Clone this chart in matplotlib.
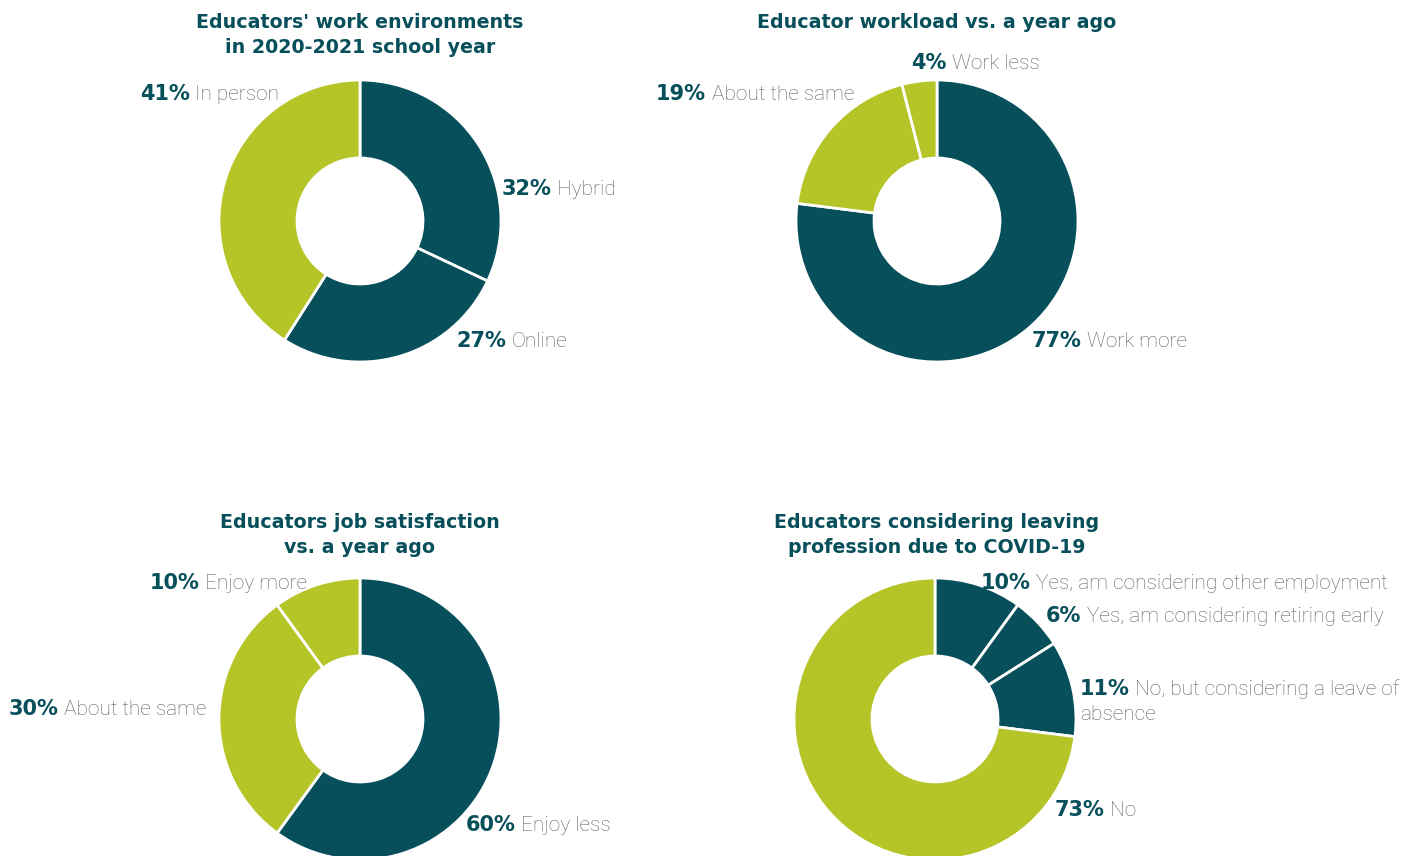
import matplotlib
matplotlib.use('Agg')
import matplotlib.pyplot as plt

TEAL = '#074f5a'
LIME = '#b5c427'
GRAY = '#5f5f65'

# chart data, wedges go clockwise from 12 o'clock
titles = [
    "Educators' work environments\nin 2020-2021 school year",
    "Educator workload vs. a year ago",
    "Educators job satisfaction\nvs. a year ago",
    "Educators considering leaving\nprofession due to COVID-19",
]
env_vals = [32, 27, 41]
env_labels = ['Hybrid', 'Online', 'In person']
env_colors = [TEAL, TEAL, LIME]

load_vals = [77, 19, 4]
load_labels = ['Work more', 'About the same', 'Work less']
load_colors = [TEAL, LIME, LIME]

sat_vals = [60, 30, 10]
sat_labels = ['Enjoy less', 'About the same', 'Enjoy more']
sat_colors = [TEAL, LIME, LIME]

leave_vals = [10, 6, 11, 73]
leave_labels = ['Yes, am considering other employment',
                'Yes, am considering retiring early',
                'No, but considering a leave of\nabsence',
                'No']
leave_colors = [TEAL, TEAL, TEAL, LIME]

W, H = 1404, 856

# layout in pixels (x, y from top)
centers = [(360, 221), (937, 221), (360, 719), (935, 719)]
title_pos = [(360, 35), (937, 22), (360, 535), (937, 535)]
label_pos = [
    [(502, 189), (456, 341), (140, 94)],
    [(1032, 341), (656, 94), (911, 63)],
    [(466, 825), (9, 709), (150, 583)],
    [(981, 583), (1046, 616), (1080, 689), (1055, 810)],
]
R_OUT = 141
R_IN = 63

fig = plt.figure(figsize=(W / 100, H / 100), dpi=100)
ax = fig.add_axes([0, 0, 1, 1])
ax.set_xlim(0, W)
ax.set_ylim(0, H)
ax.set_aspect('equal')
ax.axis('off')

charts = [
    (env_vals, env_labels, env_colors),
    (load_vals, load_labels, load_colors),
    (sat_vals, sat_labels, sat_colors),
    (leave_vals, leave_labels, leave_colors),
]

BOLD = 'DejaVu Sans'
LIGHT = 'Roboto'


def put_label(x, y, pct, name):
    lines = name.split('\n')
    b = ax.text(x, H - y, f'{pct}%', family=BOLD, fontweight='bold',
                fontsize=15, color=TEAL, va='center', ha='left')
    ax.annotate(lines[0], xy=(1, 0), xycoords=b, xytext=(4, 0),
                textcoords='offset points', family=LIGHT, fontweight='light',
                fontsize=15, color=GRAY, va='bottom', ha='left')
    for k, extra in enumerate(lines[1:]):
        ax.text(x, H - y - 25 * (k + 1), extra, family=LIGHT,
                fontweight='light', fontsize=15, color=GRAY,
                va='center', ha='left')


for i, (vals, labels, colors) in enumerate(charts):
    cx, cy = centers[i]
    ax.pie(vals, colors=colors, startangle=90, counterclock=False,
           center=(cx, H - cy), radius=R_OUT,
           wedgeprops=dict(width=R_OUT - R_IN, edgecolor='white',
                           linewidth=2))
    tx, ty = title_pos[i]
    ax.text(tx, H - ty, titles[i], family=BOLD, fontweight='bold',
            fontsize=13.7, color=TEAL, ha='center', va='center',
            linespacing=1.4)
    for (lx, ly), v, lab in zip(label_pos[i], vals, labels):
        put_label(lx, ly, v, lab)

ax.set_xlim(0, W)
ax.set_ylim(0, H)

fig.savefig('out.png', dpi=100, facecolor='white')
